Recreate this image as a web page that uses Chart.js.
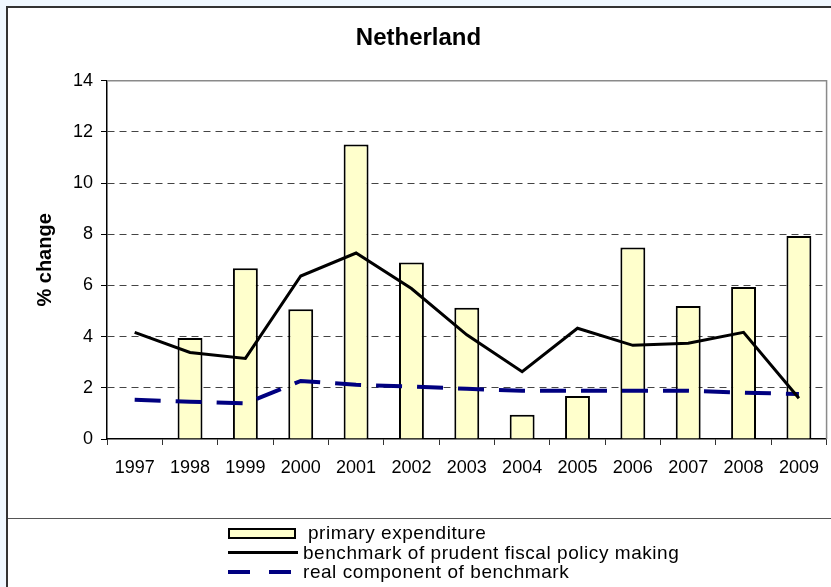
<!DOCTYPE html>
<html>
<head>
<meta charset="utf-8">
<script src="https://cdn.jsdelivr.net/npm/chart.js@4.4.1/dist/chart.umd.min.js"></script>
<style>
  html, body { margin:0; padding:0; width:831px; height:587px; overflow:hidden; background:#f0f8ff; font-family:"Liberation Sans", Arial, sans-serif; }
  #frame { position:absolute; left:6px; top:6px; width:825px; height:581px; background:#fff; border-left:2px solid #333; border-top:2px solid #333; }
  #chartBox { position:absolute; left:0; top:0; width:823px; height:510px; }
  #divider { position:absolute; left:0; top:510px; width:825px; height:1px; background:#555; }
  #legend { position:absolute; left:0; top:0; width:825px; height:581px; pointer-events:none; }
  .lrow { position:absolute; left:220px; height:19.5px; display:flex; align-items:center; font-size:19px; letter-spacing:0.55px; color:#000; white-space:nowrap; }
  .lsym { flex:none; }
</style>
</head>
<body>
<div id="frame">
  <div id="chartBox"><canvas id="c" width="823" height="510"></canvas></div>
  <div id="divider"></div>
  <div id="legend"></div>
</div>
<script>
// ---- data ----
const years = ['1997','1998','1999','2000','2001','2002','2003','2004','2005','2006','2007','2008','2009'];
const primaryExpenditure = [null, 3.95, 6.67, 5.07, 11.51, 6.9, 5.13, 0.95, 1.68, 7.48, 5.2, 5.94, 7.93];
const prudentBenchmark   = [4.17, 3.38, 3.15, 6.37, 7.27, 5.88, 4.07, 2.63, 4.33, 3.66, 3.74, 4.17, 1.59];
const realComponent      = [1.53, 1.46, 1.39, 2.27, 2.12, 2.05, 1.96, 1.89, 1.89, 1.89, 1.89, 1.81, 1.76];
const seriesNames = ['primary expenditure', 'benchmark of prudent fiscal policy making', 'real component of benchmark'];
const chartTitle = 'Netherland';
const yTitle = '% change';
const yMin = 0, yMax = 14, yStep = 2;

const FONT = '"Liberation Sans", Arial, sans-serif';
Chart.defaults.font.family = FONT;
Chart.defaults.color = '#000';

const plotFrame = {
  id: 'plotFrame',
  beforeDatasetsDraw(chart) {
    const {ctx, chartArea: a} = chart;
    ctx.save();
    ctx.strokeStyle = '#8a8a8a';
    ctx.lineWidth = 1.5;
    ctx.beginPath();
    ctx.moveTo(a.left, a.top);
    ctx.lineTo(a.right, a.top);
    ctx.lineTo(a.right, a.bottom);
    ctx.stroke();
    ctx.restore();
  }
};

const chart = new Chart(document.getElementById('c'), {
  type: 'bar',
  data: {
    labels: years,
    datasets: [
      { type:'bar', label: seriesNames[0], data: primaryExpenditure,
        backgroundColor:'#ffffcc', borderColor:'#000', borderWidth:2,
        barPercentage:0.45, categoryPercentage:1, order:2 },
      { type:'line', label: seriesNames[1], data: prudentBenchmark,
        borderColor:'#000', borderWidth:3, pointRadius:0, tension:0, fill:false, order:0 },
      { type:'line', label: seriesNames[2], data: realComponent,
        borderColor:'#000080', borderWidth:4, borderDash:[26,15], pointRadius:0, tension:0, fill:false, order:1 }
    ]
  },
  options: {
    responsive:false, animation:false,
    layout:{ padding:{ left:0, right:2, top:0, bottom:0 } },
    plugins:{
      legend:{ display:false },
      tooltip:{ enabled:false },
      title:{ display:true, text:chartTitle, color:'#000',
        font:{ family:FONT, size:24, weight:'bold' }, padding:{ top:16, bottom:28 } }
    },
    scales:{
      x:{
        offset:true,
        grid:{ offset:true, drawOnChartArea:false, drawTicks:true, tickLength:6, tickColor:'#333', tickWidth:1 },
        border:{ color:'#000', width:1.5 },
        ticks:{ color:'#000', font:{ family:FONT, size:18 }, padding:12, maxRotation:0, autoSkip:false },
        afterFit(s){ s.height = 79; }
      },
      y:{
        min:yMin, max:yMax,
        ticks:{ stepSize:yStep, color:'#000', font:{ family:FONT, size:18 }, padding:8 },
        grid:{ color:(c)=> (c.tick && (c.tick.value === yMin || c.tick.value === yMax)) ? 'rgba(0,0,0,0)' : '#444',
               lineWidth:1, tickColor:'#000', tickLength:6, drawTicks:true },
        border:{ color:'#000', width:1.5, dash:[7,5] },
        title:{ display:true, text:yTitle, color:'#000', font:{ family:FONT, size:20, weight:'bold' }, padding:{ top:25, bottom:0 } },
        afterFit(s){ s.width = 99; }
      }
    }
  },
  plugins:[plotFrame]
});

// ---- legend built from the chart's datasets (stacked, like the reference) ----
(function buildLegend(){
  const host = document.getElementById('legend');
  const rowCentres = [525, 544.5, 564];
  chart.data.datasets.forEach((ds, i) => {
    const row = document.createElement('div');
    row.className = 'lrow';
    row.style.top = (rowCentres[i] - 9.75) + 'px';
    const sym = document.createElement('span');
    sym.className = 'lsym';
    if (ds.type === 'bar') {
      sym.style.cssText = 'display:block;width:68px;height:11px;box-sizing:border-box;background:' + ds.backgroundColor + ';border:2px solid ' + ds.borderColor + ';margin-right:12px;';
    } else if (ds.borderDash) {
      sym.style.cssText = 'display:block;width:70px;height:' + ds.borderWidth + 'px;margin-right:5px;background:repeating-linear-gradient(to right,' + ds.borderColor + ' 0 22px, transparent 22px 41px);';
    } else {
      sym.style.cssText = 'display:block;width:70px;height:' + ds.borderWidth + 'px;margin-right:5px;background:' + ds.borderColor + ';';
    }
    const txt = document.createElement('span');
    txt.textContent = ds.label;
    row.appendChild(sym);
    row.appendChild(txt);
    host.appendChild(row);
  });
})();
</script>
</body>
</html>
